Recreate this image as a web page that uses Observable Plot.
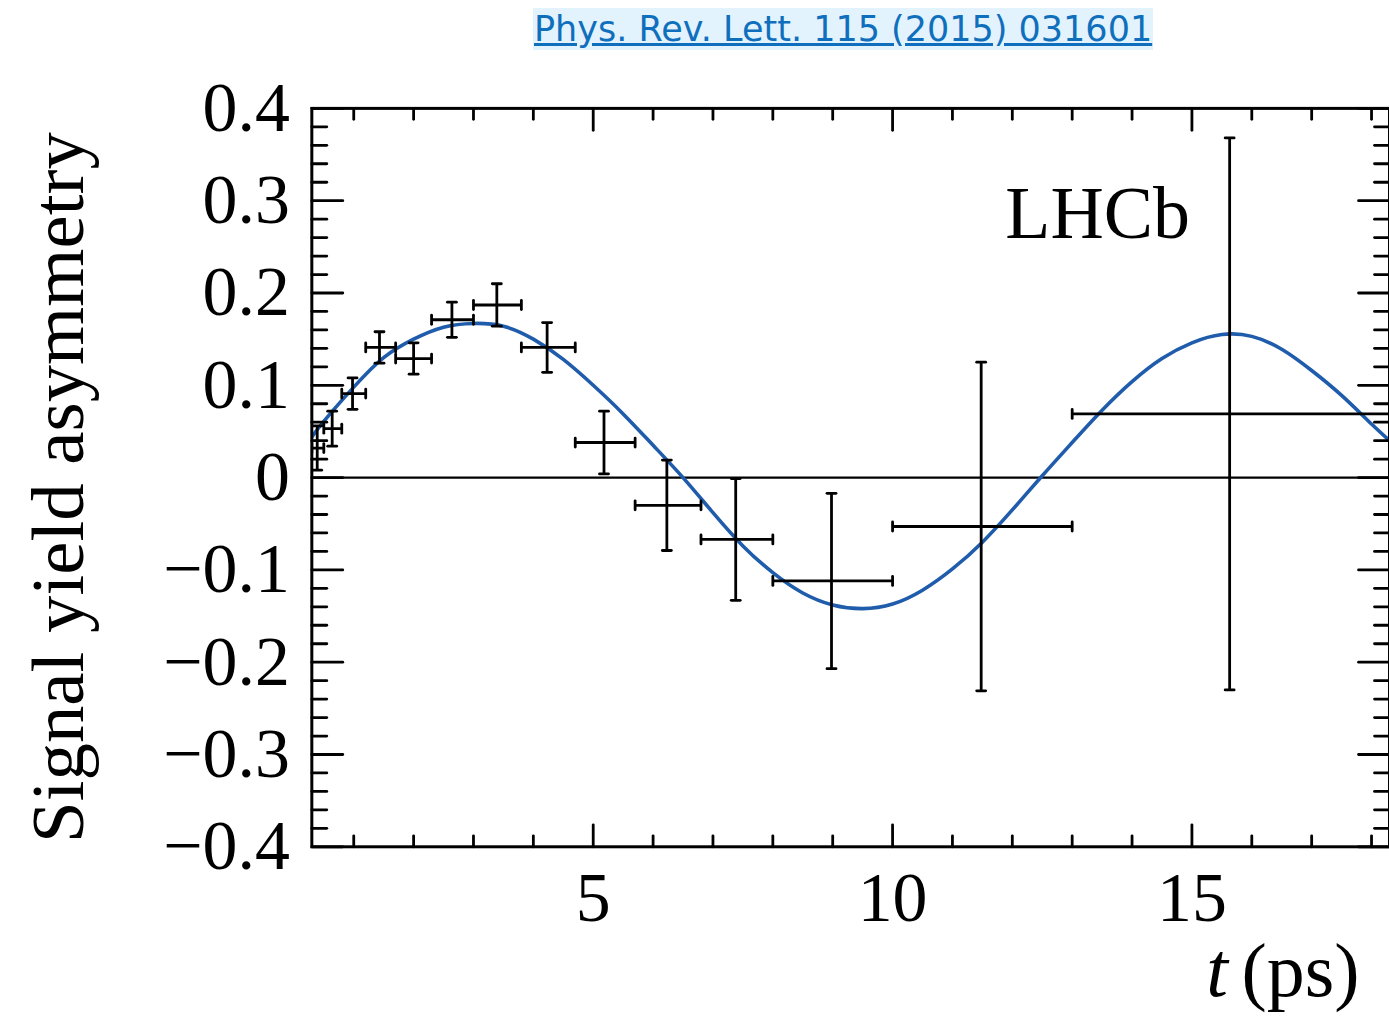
<!DOCTYPE html>
<html>
<head>
<meta charset="utf-8">
<script src="https://cdn.jsdelivr.net/npm/d3@7"></script>
<script src="https://cdn.jsdelivr.net/npm/@observablehq/plot@0.6"></script>
<style>
  html, body { margin: 0; padding: 0; background: #fff; overflow: hidden; }
  body { width: 1389px; height: 1018px; }
  #title { position: relative; height: 58px; width: 1389px; }
  #title a {
    position: absolute; left: 533px; top: 8px;
    font-family: "DejaVu Sans", Verdana, sans-serif; font-size: 35px; line-height: 42px;
    color: #0f6fbd; background: #e2f3fd; text-decoration: underline; white-space: nowrap;
    padding: 0 1px;
  }
  #chart svg { display: block; }
</style>
</head>
<body>
<div id="title"><a href="#">Phys. Rev. Lett. 115 (2015) 031601</a></div>
<div id="chart"></div>
<script>
// ---- data ----
const tMean   = [0.39, 0.64, 0.98, 1.43, 2.00, 2.64, 3.39, 4.23, 5.18, 6.23, 7.38, 8.98, 11.48, 15.63];
const tLow    = [0.3, 0.5, 0.8, 1.2, 1.7, 2.3, 3.0, 3.8, 4.7, 5.7, 6.8, 8.0, 10.0, 13.0];
const tHigh   = [0.5, 0.8, 1.2, 1.7, 2.3, 3.0, 3.8, 4.7, 5.7, 6.8, 8.0, 10.0, 13.0, 18.3];
const asym    = [0.032, 0.053, 0.091, 0.141, 0.129, 0.171, 0.187, 0.141, 0.038, -0.030, -0.067, -0.112, -0.053, 0.069];
const asymErr = [0.024, 0.019, 0.017, 0.017, 0.017, 0.019, 0.023, 0.027, 0.034, 0.049, 0.066, 0.095, 0.178, 0.299];

// fit curve, every 0.5 ps
const fitT = [0.3, 0.5, 1.0, 1.5, 2.0, 2.5, 3.0, 3.5, 4.0, 4.5, 5.0, 5.5, 6.0, 6.5, 7.0, 7.5, 8.0, 8.5, 9.0, 9.5,
              10.0, 10.5, 11.0, 11.5, 12.0, 12.5, 13.0, 13.5, 14.0, 14.5, 15.0, 15.5, 16.0, 16.5, 17.0, 17.5, 18.0, 18.3];
const fitA = [0.044, 0.061, 0.098, 0.130, 0.150, 0.163, 0.167, 0.164, 0.150, 0.128, 0.100, 0.069, 0.035, 0.000,
              -0.038, -0.074, -0.103, -0.125, -0.138, -0.142, -0.137, -0.122, -0.099, -0.070, -0.035, 0.002,
              0.038, 0.073, 0.104, 0.129, 0.146, 0.155, 0.153, 0.139, 0.116, 0.089, 0.058, 0.040];

const xMajor = [5, 10, 15];
const xMinor = [1, 2, 3, 4, 6, 7, 8, 9, 11, 12, 13, 14, 16, 17, 18];
const yMajor = [-0.4, -0.3, -0.2, -0.1, 0, 0.1, 0.2, 0.3, 0.4];
const yMinor = [-0.38, -0.36, -0.34, -0.32, -0.28, -0.26, -0.24, -0.22, -0.18, -0.16, -0.14, -0.12,
                -0.08, -0.06, -0.04, -0.02, 0.02, 0.04, 0.06, 0.08, 0.12, 0.14, 0.16, 0.18,
                0.22, 0.24, 0.26, 0.28, 0.32, 0.34, 0.36, 0.38];

const yLabel = "Signal yield asymmetry";
const expLabel = "LHCb";

// ---- build ----
const pts = tMean.map((t, i) => ({t, lo: tLow[i], hi: tHigh[i], a: asym[i], e: asymErr[i]}));
const fit = fitT.map((t, i) => ({t, a: fitA[i]}));

const line = {draw(ctx, l) { ctx.moveTo(0, 0); ctx.lineTo(0, -l); }};
const fmtY = d => d === 0 ? "0" : (d < 0 ? "\u2212" : "") + Math.abs(d).toFixed(1);
const serif = "'Liberation Serif', 'Times New Roman', serif";
const ink = "#000";
const tw = 2.8;
const cap = 9;

const tickMarks = (vals, axis, anchor, rotate, len) => Plot.vector(vals, {
  [axis]: d => d, frameAnchor: anchor, rotate, length: len, anchor: "start",
  shape: line, stroke: ink, strokeWidth: tw
});

const chart = Plot.plot({
  width: 1392,
  height: 960,
  marginTop: 50,
  marginBottom: 170,
  marginLeft: 312,
  marginRight: 0,
  style: {fontFamily: serif, background: "#fff", color: "#000"},
  x: {domain: [0.3, 18.3]},
  y: {domain: [-0.4, 0.4]},
  marks: [
    // zero line
    Plot.ruleY([0], {stroke: ink, strokeWidth: 2.3}),
    // fit curve
    Plot.line(fit, {x: "t", y: "a", stroke: "#1f5cab", strokeWidth: 3.6, curve: "natural", clip: true}),
    // error bars
    Plot.ruleY(pts, {y: "a", x1: "lo", x2: "hi", stroke: ink, strokeWidth: tw, clip: true}),
    Plot.ruleX(pts, {x: "t", y1: d => d.a - d.e, y2: d => d.a + d.e, stroke: ink, strokeWidth: tw, clip: true}),
    // caps
    Plot.vector(pts, {x: "lo", y: "a", rotate: 0, length: cap, anchor: "middle", shape: line, stroke: ink, strokeWidth: tw, clip: true}),
    Plot.vector(pts, {x: "hi", y: "a", rotate: 0, length: cap, anchor: "middle", shape: line, stroke: ink, strokeWidth: tw, clip: true}),
    Plot.vector(pts, {x: "t", y: d => d.a - d.e, rotate: 90, length: cap, anchor: "middle", shape: line, stroke: ink, strokeWidth: tw, clip: true}),
    Plot.vector(pts, {x: "t", y: d => d.a + d.e, rotate: 90, length: cap, anchor: "middle", shape: line, stroke: ink, strokeWidth: tw, clip: true}),
    // inward ticks
    tickMarks(yMajor, "y", "left", 90, 31),
    tickMarks(yMinor, "y", "left", 90, 15),
    tickMarks(yMajor, "y", "right", -90, 31),
    tickMarks(yMinor, "y", "right", -90, 15),
    tickMarks(xMajor, "x", "bottom", 0, 22),
    tickMarks(xMinor, "x", "bottom", 0, 11),
    tickMarks(xMajor, "x", "top", 180, 22),
    tickMarks(xMinor, "x", "top", 180, 11),
    // frame
    Plot.frame({stroke: ink, strokeWidth: 3}),
    // tick labels
    Plot.axisY({ticks: yMajor, tickSize: 0, tickPadding: 22, tickFormat: fmtY, fontSize: 70, label: null, anchor: "left"}),
    Plot.axisX({ticks: xMajor, tickSize: 0, tickPadding: 25, tickFormat: d => String(d), fontSize: 70, label: null, anchor: "bottom"}),
    // axis titles and annotation
    Plot.text([yLabel], {frameAnchor: "left", rotate: -90, dx: -229, dy: 10, fontSize: 75, lineAnchor: "bottom", textAnchor: "middle", fill: ink}),
    Plot.text(["(ps)"], {frameAnchor: "bottom-right", textAnchor: "end", lineAnchor: "bottom", dx: -30, dy: 150, fontSize: 76, fill: ink}),
    Plot.text(["t"], {frameAnchor: "bottom-right", textAnchor: "end", lineAnchor: "bottom", dx: -162, dy: 150, fontSize: 78, fontStyle: "italic", fill: ink}),
    Plot.text([expLabel], {frameAnchor: "top-right", textAnchor: "end", lineAnchor: "middle", dx: -200, dy: 106, fontSize: 74, fill: ink})
  ]
});
document.getElementById("chart").appendChild(chart);
</script>
</body>
</html>
